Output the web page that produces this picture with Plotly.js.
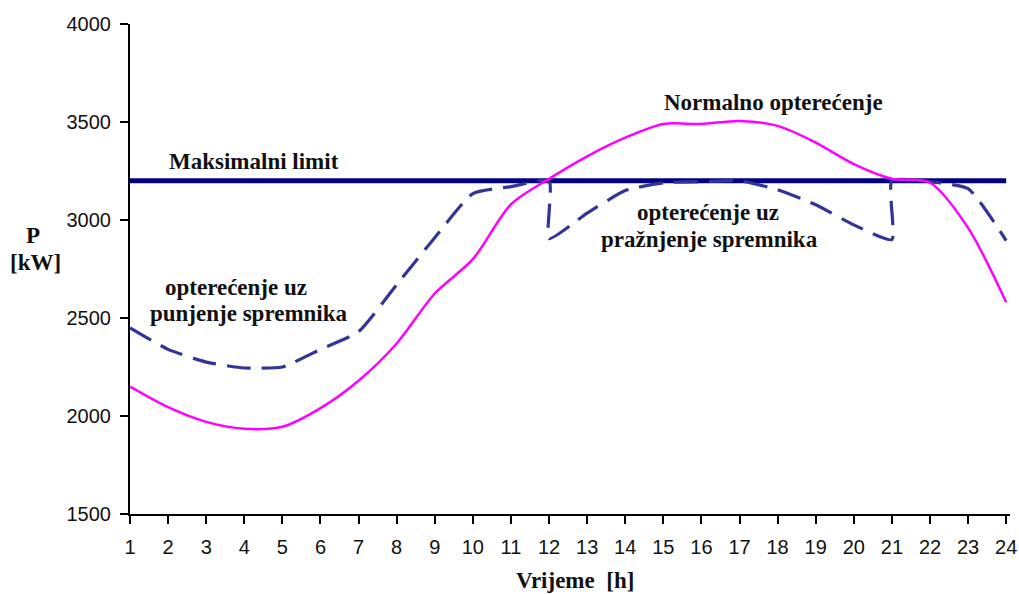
<!DOCTYPE html>
<html>
<head>
<meta charset="utf-8">
<script src="https://cdn.plot.ly/plotly-3.0.1.min.js"></script>
<style>html,body{margin:0;padding:0;background:#fff;}#chart{width:1019px;height:594px;}</style>
</head>
<body>
<div id="chart"></div>
<script>
// Hours of the day
const hours = [1,2,3,4,5,6,7,8,9,10,11,12,13,14,15,16,17,18,19,20,21,22,23,24];
// Normal load (Normalno opterećenje), kW
const normalLoad = [2150,2045,1970,1935,1945,2040,2180,2370,2625,2800,3080,3210,3325,3420,3490,3490,3505,3480,3395,3285,3210,3190,2960,2580];
// Load with storage charging / discharging (dashed), kW — vertical steps at hours 12 and 21
const storageHours = [1,2,3,4,5,6,7,8,9,10,11,12,12,13,14,15,16,17,18,19,20,21,21,22,23,24];
const storageLoad = [2450,2340,2275,2245,2250,2340,2430,2670,2910,3135,3170,3200,2905,3035,3150,3190,3195,3200,3155,3078,2975,2900,3200,3195,3160,2895];
// Maximum limit (Maksimalni limit), kW
const limitHours = [1,24];
const limitValue = 3200;

const yTicks = [1500,2000,2500,3000,3500,4000];

const serif = 'Liberation Serif, Times New Roman, serif';
const sans = 'Liberation Sans, Arial, sans-serif';

const traces = [
  {x: limitHours, y: limitHours.map(() => limitValue), mode: 'lines', line: {color: '#000080', width: 5}, cliponaxis: false, hoverinfo: 'skip'},
  {x: storageHours, y: storageLoad, mode: 'lines', line: {color: '#333399', width: 3.2, dash: '24px,11px', shape: 'spline', smoothing: 0.5}, cliponaxis: false},
  {x: hours, y: normalLoad, mode: 'lines', line: {color: '#FF00FF', width: 2.5, shape: 'spline', smoothing: 0.8}, cliponaxis: false}
];

const annFont = {family: serif, size: 23, color: '#111'};
function label(text, x, y, ref) {
  return {text: '<b>' + text + '</b>', x: x, y: y, xref: ref ? 'paper' : 'x', yref: ref ? 'paper' : 'y',
          xanchor: 'center', yanchor: 'middle', showarrow: false, font: annFont};
}
const layout = {
  width: 1019, height: 594,
  margin: {l: 130, r: 9, t: 24, b: 80},
  paper_bgcolor: '#fff', plot_bgcolor: '#fff',
  showlegend: false,
  xaxis: {
    range: [1, 24.1], tickvals: hours, ticktext: hours.map(String),
    showgrid: false, zeroline: false, showline: true, linecolor: '#000', linewidth: 2,
    ticks: 'outside', ticklen: 8, tickwidth: 2, tickcolor: '#000', ticklabelstandoff: 6,
    tickfont: {family: sans, size: 20, color: '#111'}, automargin: false
  },
  yaxis: {
    range: [1500, 4000], tickvals: yTicks, ticktext: yTicks.map(String),
    showgrid: false, zeroline: false, showline: true, linecolor: '#000', linewidth: 2,
    ticks: 'outside', ticklen: 8, tickwidth: 2, tickcolor: '#000', ticklabelstandoff: 5,
    tickfont: {family: sans, size: 20, color: '#111'}, automargin: false
  },
  annotations: [
    label('Maksimalni limit', 4.26, 3296),
    label('Normalno opterećenje', 17.9, 3597),
    label('opterećenje uz', 16.17, 3036),
    label('pražnjenje spremnika', 16.2, 2898),
    label('opterećenje uz', 3.78, 2655),
    label('punjenje spremnika', 4.12, 2525),
    label('P', -0.11, 0.569, true),
    label('[kW]', -0.107, 0.514, true),
    label('Vrijeme&nbsp;&nbsp;[h]', 0.506, -0.135, true)
  ]
};

Plotly.newPlot('chart', traces, layout, {staticPlot: true, displayModeBar: false});
</script>
</body>
</html>
